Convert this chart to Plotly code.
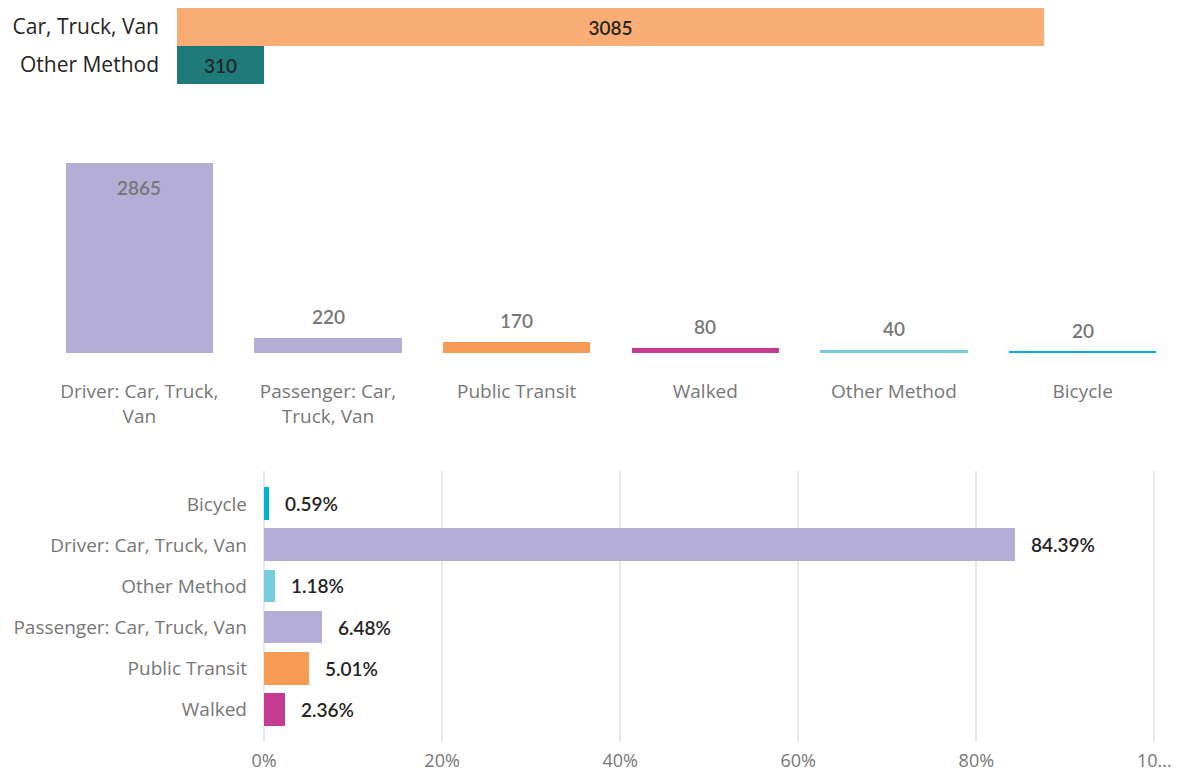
import plotly.graph_objects as go

W, H = 1181, 773

# ---------- data ----------
top_categories = ["Car, Truck, Van", "Other Method"]
top_values = [3085, 310]
top_colors = ["#F9AC73", "#1F7B79"]

mid_categories = ["Driver: Car, Truck, Van", "Passenger: Car, Truck, Van", "Public Transit",
                  "Walked", "Other Method", "Bicycle"]
mid_ticktext = ["Driver: Car, Truck,<br>Van", "Passenger: Car,<br>Truck, Van", "Public Transit",
                "Walked", "Other Method", "Bicycle"]
mid_values = [2865, 220, 170, 80, 40, 20]
mid_colors = ["#B4ADD6", "#B4ADD6", "#F79A53", "#C43C91", "#76CCDB", "#00B1D8"]

bot_categories = ["Bicycle", "Driver: Car, Truck, Van", "Other Method",
                  "Passenger: Car, Truck, Van", "Public Transit", "Walked"]
bot_values = [0.59, 84.39, 1.18, 6.48, 5.01, 2.36]
bot_colors = ["#00B1D8", "#B4ADD6", "#76CCDB", "#B4ADD6", "#F79A53", "#C43C91"]
bot_tickvals = [0, 20, 40, 60, 80, 100]
bot_ticktext = ["0%", "20%", "40%", "60%", "80%", "10..."]


def px_x(a, b):
    return [a / W, b / W]


def px_y(top, bottom):
    return [1 - bottom / H, 1 - top / H]


TICK_FONT = "Open Sans, Noto Sans, sans-serif"
LABEL_FONT = "Lato, Roboto, sans-serif"
GRAY = "#777777"
DARK = "#252423"
LBL = dict(family=LABEL_FONT, size=19, weight=600)

fig = go.Figure()

# top panel
fig.add_trace(go.Bar(
    x=top_values, y=top_categories, orientation="h", width=1.0,
    marker=dict(color=top_colors, line=dict(width=0)),
    text=[str(v) for v in top_values], textposition="inside", insidetextanchor="middle",
    textfont=dict(LBL, color=DARK),
    xaxis="x", yaxis="y", showlegend=False, hoverinfo="skip",
))

# middle panel
fig.add_trace(go.Bar(
    x=mid_categories, y=mid_values, width=0.78,
    marker=dict(color=mid_colors, line=dict(width=0)),
    xaxis="x2", yaxis="y2", showlegend=False, hoverinfo="skip",
))

# bottom panel
fig.add_trace(go.Bar(
    x=bot_values, y=bot_categories, orientation="h", width=0.8,
    marker=dict(color=bot_colors, line=dict(width=0)),
    xaxis="x3", yaxis="y3", showlegend=False, hoverinfo="skip",
))

annotations = []
mid_max = max(mid_values)
for c, v in zip(mid_categories, mid_values):
    if v == mid_max:
        annotations.append(dict(x=c, y=v, xref="x2", yref="y2", text=str(v), showarrow=False,
                                yanchor="top", yshift=-11, font=dict(LBL, color=GRAY)))
    else:
        annotations.append(dict(x=c, y=v, xref="x2", yref="y2", text=str(v), showarrow=False,
                                yanchor="bottom", yshift=8, font=dict(LBL, color=GRAY)))

for c, v in zip(bot_categories, bot_values):
    annotations.append(dict(x=v, y=c, xref="x3", yref="y3", text=f"{v:.2f}%", showarrow=False,
                            xanchor="left", xshift=14, font=dict(LBL, color=DARK)))

fig.update_layout(
    width=W, height=H,
    margin=dict(l=0, r=0, t=0, b=0),
    paper_bgcolor="white", plot_bgcolor="white",
    bargap=0,
    annotations=annotations,
    xaxis=dict(domain=px_x(177, 1177), range=[0, 3085 * 1000 / 867], visible=False,
               automargin=False),
    yaxis=dict(domain=px_y(8, 84), type="category", categoryarray=top_categories,
               range=[1.5, -0.5], showgrid=False, zeroline=False, showline=False, ticks="",
               ticklabelstandoff=17, automargin=False,
               tickfont=dict(family=TICK_FONT, size=21, color=DARK)),
    xaxis2=dict(domain=px_x(45, 1177), type="category", categoryarray=mid_categories,
                tickvals=mid_categories, ticktext=mid_ticktext,
                showgrid=False, zeroline=False, showline=False, ticks="",
                ticklabelstandoff=25, automargin=False, anchor="y2",
                tickfont=dict(family=TICK_FONT, size=19, color=GRAY)),
    yaxis2=dict(domain=px_y(150, 353), range=[0, 203 / (190 / 2865)],
                visible=False, automargin=False, anchor="x2"),
    xaxis3=dict(domain=px_x(264, 1166), range=[0, 101.3], anchor="y3",
                tickvals=bot_tickvals, ticktext=bot_ticktext,
                showgrid=True, gridcolor="#E8E8E8", gridwidth=1.5,
                zeroline=True, zerolinecolor="#E8E8E8", zerolinewidth=1.5,
                showline=False, ticks="", ticklabelstandoff=6, automargin=False,
                tickfont=dict(family=TICK_FONT, size=18, color=GRAY)),
    yaxis3=dict(domain=px_y(471, 742), type="category", categoryarray=bot_categories,
                range=[5.8, -0.8], anchor="x3",
                showgrid=False, zeroline=False, showline=False, ticks="",
                ticklabelstandoff=16, automargin=False,
                tickfont=dict(family=TICK_FONT, size=19, color=GRAY)),
)

fig.write_html("out.html", config={"displayModeBar": False},
               post_script="document.body.style.margin='0';document.body.style.overflow='hidden';")
